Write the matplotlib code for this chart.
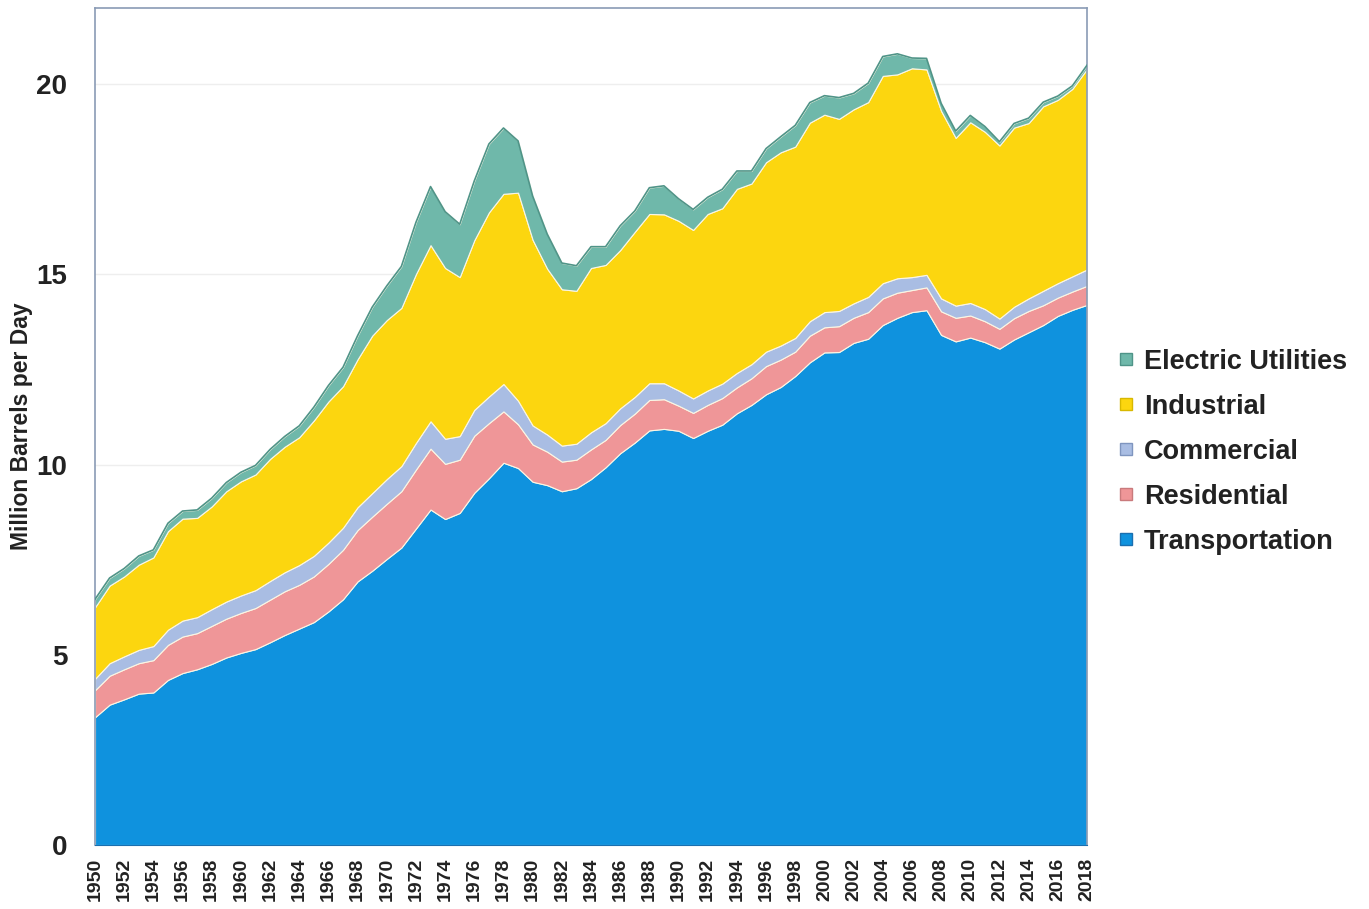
import matplotlib
matplotlib.use("Agg")
from matplotlib import pyplot as plt
from matplotlib.lines import Line2D
import numpy as np

years = np.arange(1950, 2019)

transportation = [3.36, 3.69, 3.83, 3.98, 4.01, 4.34, 4.52, 4.62, 4.76, 4.93,
                  5.05, 5.15, 5.33, 5.52, 5.69, 5.86, 6.14, 6.46, 6.93, 7.21,
                  7.52, 7.82, 8.32, 8.82, 8.57, 8.73, 9.26, 9.64, 10.05, 9.91,
                  9.55, 9.46, 9.30, 9.38, 9.62, 9.93, 10.30, 10.58, 10.90, 10.94,
                  10.89, 10.70, 10.89, 11.05, 11.35, 11.57, 11.85, 12.04, 12.33, 12.69,
                  12.95, 12.96, 13.20, 13.31, 13.67, 13.86, 14.01, 14.06, 13.41, 13.24,
                  13.34, 13.22, 13.05, 13.29, 13.48, 13.67, 13.91, 14.07, 14.20]
residential = [0.71, 0.76, 0.79, 0.80, 0.85, 0.92, 0.96, 0.95, 1.00, 1.02,
               1.05, 1.08, 1.12, 1.15, 1.15, 1.20, 1.25, 1.30, 1.35, 1.42,
               1.45, 1.48, 1.55, 1.60, 1.45, 1.40, 1.50, 1.45, 1.35, 1.15,
               0.98, 0.88, 0.78, 0.75, 0.78, 0.72, 0.74, 0.76, 0.80, 0.78,
               0.66, 0.66, 0.68, 0.70, 0.68, 0.70, 0.74, 0.72, 0.64, 0.70,
               0.66, 0.68, 0.66, 0.70, 0.70, 0.66, 0.58, 0.60, 0.62, 0.62,
               0.58, 0.55, 0.52, 0.56, 0.56, 0.52, 0.48, 0.48, 0.50]
commercial = [0.30, 0.33, 0.34, 0.35, 0.37, 0.40, 0.42, 0.42, 0.44, 0.45,
              0.46, 0.47, 0.49, 0.50, 0.52, 0.54, 0.56, 0.58, 0.60, 0.62,
              0.65, 0.66, 0.70, 0.72, 0.66, 0.62, 0.68, 0.70, 0.72, 0.62,
              0.50, 0.45, 0.42, 0.42, 0.45, 0.44, 0.44, 0.44, 0.44, 0.42,
              0.40, 0.38, 0.38, 0.38, 0.38, 0.37, 0.38, 0.37, 0.36, 0.38,
              0.40, 0.40, 0.38, 0.40, 0.40, 0.38, 0.34, 0.33, 0.34, 0.32,
              0.33, 0.32, 0.27, 0.30, 0.33, 0.38, 0.38, 0.40, 0.43]
industrial = [1.88, 2.04, 2.10, 2.24, 2.33, 2.59, 2.68, 2.61, 2.70, 2.90,
              3.00, 3.04, 3.21, 3.30, 3.36, 3.56, 3.71, 3.72, 3.89, 4.14,
              4.18, 4.16, 4.44, 4.63, 4.49, 4.18, 4.46, 4.84, 5.00, 5.47,
              4.88, 4.36, 4.11, 4.02, 4.32, 4.16, 4.16, 4.34, 4.45, 4.44,
              4.46, 4.43, 4.64, 4.61, 4.84, 4.75, 4.98, 5.08, 5.03, 5.22,
              5.19, 5.05, 5.10, 5.12, 5.45, 5.36, 5.49, 5.40, 4.93, 4.41,
              4.75, 4.66, 4.55, 4.71, 4.61, 4.85, 4.82, 4.93, 5.27]
electric = [0.21, 0.20, 0.21, 0.23, 0.20, 0.21, 0.20, 0.21, 0.22, 0.23,
            0.24, 0.24, 0.25, 0.27, 0.30, 0.35, 0.42, 0.50, 0.62, 0.75,
            0.90, 1.09, 1.36, 1.54, 1.48, 1.39, 1.56, 1.80, 1.73, 1.36,
            1.15, 0.91, 0.69, 0.66, 0.56, 0.48, 0.64, 0.55, 0.69, 0.75,
            0.58, 0.54, 0.44, 0.50, 0.47, 0.33, 0.36, 0.41, 0.56, 0.53,
            0.50, 0.56, 0.42, 0.50, 0.51, 0.54, 0.27, 0.29, 0.20, 0.18,
            0.18, 0.14, 0.10, 0.11, 0.13, 0.11, 0.10, 0.08, 0.10]

labels = ["Transportation", "Residential", "Commercial", "Industrial", "Electric Utilities"]
colors = ["#0f92de", "#ef9698", "#a9bde3", "#fcd60f", "#6fb8aa"]
edges = ["#1a6fb0", "#c97a7c", "#7f95bf", "#d8b800", "#4f9488"]

fig = plt.figure(figsize=(13.69, 9.09), dpi=100)
ax = fig.add_axes([0.0694, 0.0704, 0.7246, 0.9206])

ax.stackplot(years, transportation, residential, commercial, industrial, electric,
             colors=colors, edgecolor="#fbf6e4", linewidth=0.8, zorder=2)
total = np.sum([transportation, residential, commercial, industrial, electric], axis=0)
ax.plot(years, total, color="#4f9488", lw=1.2, zorder=3)

ax.set_xlim(1950, 2018)
ax.set_ylim(0, 22)
ax.set_yticks([0, 5, 10, 15, 20])
ax.set_xticks(years[::2])
ax.set_xticklabels([str(y) for y in years[::2]], rotation=90)
for lab in ax.get_yticklabels():
    lab.set_fontfamily("Liberation Sans")
    lab.set_fontweight("bold")
    lab.set_fontsize(20)
    lab.set_color("#222222")
for lab in ax.get_xticklabels():
    lab.set_fontfamily("Liberation Sans")
    lab.set_fontweight("bold")
    lab.set_fontsize(14)
    lab.set_color("#222222")
ax.tick_params(axis="y", length=0, pad=20)
ax.tick_params(axis="x", length=0, pad=9)

ax.grid(axis="y", color="#eeeeee", lw=1, zorder=0)
ax.set_axisbelow(True)
for side in ["left", "top", "right"]:
    ax.spines[side].set_color("#8a9bb5")
    ax.spines[side].set_linewidth(1.2)
ax.spines["bottom"].set_color("#1a6fb0")

ax.set_ylabel("Million Barrels per Day", fontfamily="Liberation Sans",
              fontweight="bold", fontsize=16.5, color="#222222")
ax.yaxis.set_label_coords(-0.063, 0.5)

handles = [Line2D([], [], marker="s", ls="none", markersize=9,
                  markerfacecolor=c, markeredgecolor=e)
           for c, e in zip(colors, edges)]
leg = fig.legend(handles[::-1], labels[::-1], loc="center left",
                 bbox_to_anchor=(0.8, 0.503), frameon=False,
                 handletextpad=0.0, labelspacing=0.7, borderpad=0,
                 handlelength=1.3,
                 prop={"family": "Liberation Sans", "weight": "bold", "size": 19.5})
for t in leg.get_texts():
    t.set_color("#222222")

fig.savefig("out.png", dpi=100)
